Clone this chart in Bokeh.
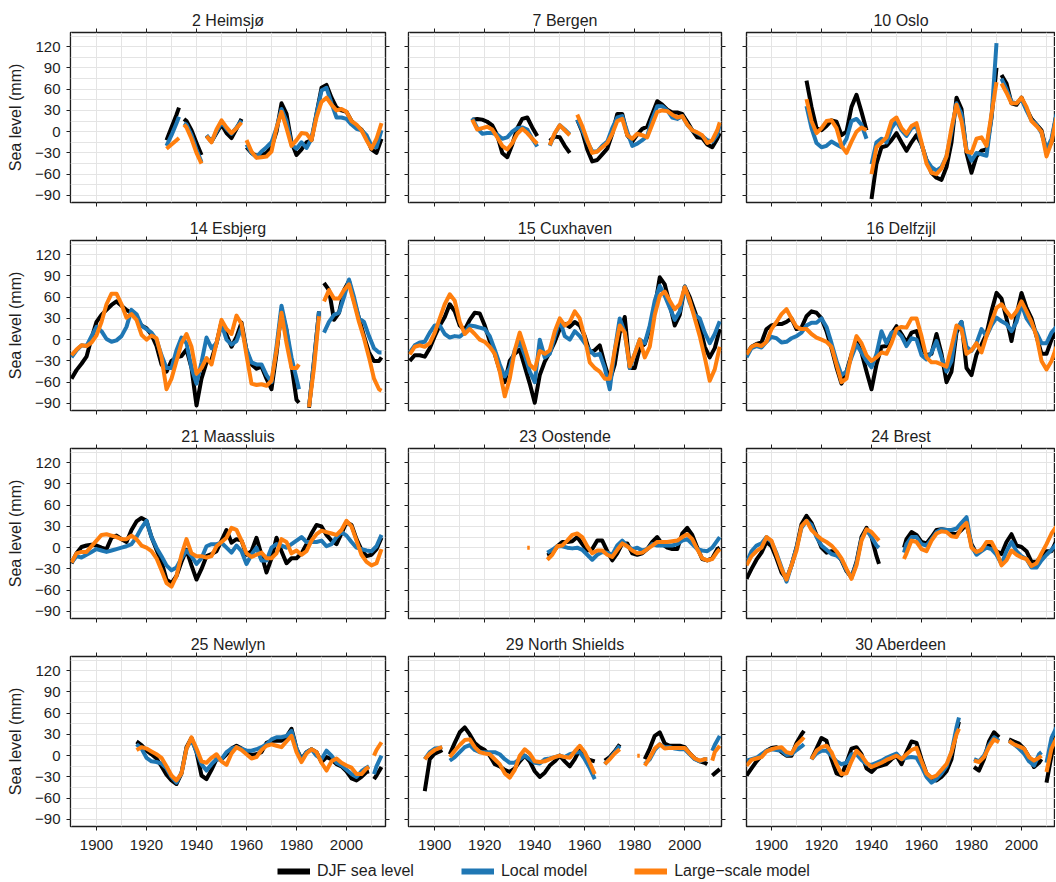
import numpy as np
from bokeh.plotting import figure
from bokeh.layouts import column, row
from bokeh.models import (Range1d, FixedTicker, LinearAxis, Legend, LegendItem,
                          CustomJSTickFormatter)
from bokeh.embed import file_html
from bokeh.resources import INLINE

# ---------------------------------------------------------------- data
# values in mm; None marks gaps in the record
YEARS_FULL = list(range(1890, 2015, 2))

heimsjo_years = [1928, 1930, 1932, 1933, 1934, 1935, 1936, 1938, 1940, 1942, 1943,
                 1944, 1946, 1948, 1950, 1952, 1954, 1956, 1958, 1959] + list(range(1960, 2015, 2))
heimsjo_djf = [-12, 6, 24, 34, None, 18, 15, 2, -16, -33, None, -6, -14, -2, 10, -2, -9, 4, 18, None,
               -22, -30, -34, -33, -30, -22, 0, 40, 25, -15, -33, -25, -15, -12, 25, 62, 66, 48, 34, 30,
               28, 15, 8, 3, -8, -25, -30, -10]
heimsjo_local = [-20, -5, 12, 21, None, 12, 10, -5, -25, -43, None, -5, -14, 0, 13, 4, -3, 6, 16, None,
                 -18, -30, -36, -28, -22, -15, 5, 32, 15, -18, -24, -15, -23, -10, 25, 58, 62, 40, 20, 20,
                 18, 10, 4, 2, -5, -20, -22, 2]
heimsjo_large = [-24, -18, -12, -9, None, 10, 6, -10, -30, -45, None, -6, -15, 3, 16, 6, -2, 5, 13, None,
                 -12, -28, -37, -36, -35, -28, 5, 28, 5, -20, -12, -2, -3, -12, 20, 42, 48, 38, 30, 32,
                 28, 15, 10, 2, -12, -24, -10, 12]

bergen_years = list(range(1915, 1942, 2)) + [1943, 1946, 1948, 1950, 1952, 1954, 1956] + \
    list(range(1957, 2014, 2)) + [2014]
bergen_djf = [17, 18, 17, 14, 9, -5, -30, -36, -18, 5, 18, 20, 6, -6, None, -13, -7, -8, -20, -30, None,
              17, 0, -25, -42, -40, -32, -24, -3, 25, 25, -5, -14, -4, 4, 7, 25, 43, 38, 31, 27, 27, 25,
              14, 2, -8, -9, -18, -22, -10, -2]
bergen_local = [19, 5, -3, -2, -2, -4, -10, -8, 0, 5, 6, 3, -10, -21, None, -20, -3, 9, 3, -4, None,
                17, 2, -14, -28, -28, -20, -14, 5, 20, 22, 0, -20, -17, -12, -6, 18, 36, 36, 30, 20, 18,
                22, 10, 2, -2, -6, -12, -14, -4, 10]
bergen_large = [17, 3, 5, 7, 3, -8, -20, -25, -16, -3, 4, -2, -10, -17, None, -19, -2, 9, 2, -5, None,
                24, 8, -12, -30, -28, -22, -16, -3, 15, 18, -5, -10, -3, -5, -8, 10, 28, 30, 29, 24, 20,
                22, 10, 2, -1, -5, -16, -12, 2, 13]

oslo_years = list(range(1914, 1939, 2)) + [1939] + list(range(1940, 1991, 2)) + [1991] + \
    list(range(1992, 2015, 2))
oslo_djf = [72, 35, 5, 2, 8, 16, 14, -5, 0, 35, 52, 28, 2, None,
            -95, -45, -22, -20, -12, -2, -15, -27, -15, -5, -18, -40, -58, -65, -68, -50, -15, 48, 32,
            -30, -58, -35, -27, -25, 20, 90, None,
            80, 68, 40, 38, 48, 32, 18, 10, 2, -28, -15, 25]
oslo_local = [36, 5, -16, -22, -20, -14, -18, -22, -10, 15, 18, 10, -10, None,
              -46, -15, -10, -15, 5, 15, 2, -6, 5, 8, -18, -40, -50, -55, -50, -35, 0, 40, 25,
              -25, -41, -30, -32, -34, 20, 125, None,
              75, 60, 42, 40, 46, 30, 16, 10, -2, -25, -10, 25]
oslo_large = [46, 15, -2, 5, 15, 16, 5, -20, -30, -14, 0, 6, 2, None,
              -60, -22, -15, -8, 15, 20, 5, -3, 8, 12, -15, -45, -58, -60, -52, -35, 5, 38, 15,
              -28, -30, -10, -8, -20, 25, 70, None,
              68, 55, 40, 40, 48, 35, 15, 8, 0, -35, -15, 20]

esbjerg_years = list(range(1890, 1981, 2)) + [1981, 1983, 1985, 1987, 1989, 1990] + \
    list(range(1991, 2014, 2)) + [2014]
esbjerg_djf = [-55, -43, -34, -24, 2, 25, 35, 42, 49, 54, 48, 42, 38, 31, 20, 16, 7, -9, -35, -45,
               -30, -25, -23, -14, -40, -93, -55, -32, -28, -5, 25, 7, -10, 4, 24, -15, -35, -41, -38, -55,
               -70, -20, 42, 13, -36, -85, -89, None, -96, -30, 40, None,
               80, 70, 28, 38, 70, 83, 55, 30, 5, -18, -30, -30, -25]
esbjerg_local = [-25, -15, -8, -9, 5, 18, 12, 1, -3, -1, 5, 18, 42, 36, 20, 15, 10, 0, -22, -40,
                 -40, -15, 3, -5, -40, -62, -32, 3, -12, -5, 22, 0, -7, -2, 17, -14, -32, -35, -35, -50,
                 -60, -10, 48, 15, -25, -55, -70, None, -95, -30, 40, None,
                 10, 25, 35, 38, 60, 85, 60, 30, 25, 5, -12, -18, -18]
esbjerg_large = [-22, -14, -8, -9, -4, 6, 25, 50, 65, 65, 50, 31, 36, 28, 7, 0, 6, 2, -25, -70,
                 -55, -30, -5, 8, -10, -48, -40, -26, -35, -5, 28, 15, 8, 34, 22, -22, -62, -64, -63, -65,
                 -58, -15, 38, -5, -40, -40, -35, None, -95, -40, 33, None,
                 54, 70, 58, 58, 70, 78, 52, 25, 2, -25, -55, -70, -72]

cuxhaven_years = YEARS_FULL
cuxhaven_djf = [-30, -22, -22, -24, -12, 5, 20, 32, 50, 40, 20, 14, 28, 38, 37, 20, -2, -20, -43, -60,
                -30, -20, -14, -38, -62, -89, -50, -31, -18, -3, 15, 22, 18, 25, 20, 5, -18, -15, -8, -35,
                -58, -35, 10, 32, -40, -40, -12, -6, 15, 45, 88, 78, 50, 20, 35, 75, 60, 40, 20, -10,
                -25, -12, 15]
cuxhaven_local = [-18, -8, -4, -3, 10, 20, 20, 8, 3, 5, 4, 10, 20, 19, 17, 15, 5, -14, -35, -52,
                  -40, -15, -3, -22, -45, -60, 0, -25, -20, 5, 28, 5, 0, 12, 5, -5, -15, -22, -20, -40,
                  -70, -15, 30, 10, -40, -20, 0, -5, 20, 55, 76, 62, 45, 28, 40, 75, 52, 35, 30, 10,
                  -5, 8, 26]
cuxhaven_large = [-21, -10, -8, -10, -5, 10, 30, 50, 64, 55, 25, 8, 15, 8, 0, -3, -10, -20, -45, -80,
                  -55, -15, 10, -12, -35, -42, -16, -20, -15, 12, 30, 20, 25, 40, 30, 3, -32, -40, -45, -55,
                  -55, -15, 20, 10, -38, -20, 0, -25, -10, 35, 62, 68, 55, 43, 50, 74, 55, 30, 5, -25,
                  -58, -42, -10]

delfzijl_years = YEARS_FULL
delfzijl_djf = [-21, -10, -6, -4, 15, 20, 22, 22, 25, 30, 15, 17, 33, 40, 38, 30, 12, -12, -39, -62,
                -45, -21, -2, -18, -45, -70, -35, -10, -9, 8, 19, 8, -4, 10, 12, -11, -22, -20, 8, -20,
                -60, -45, 10, 25, -40, -50, -21, -7, 8, 40, 66, 58, 30, -2, 35, 66, 45, 30, 5, -20,
                -20, 0, 15]
delfzijl_local = [-25, -12, -9, -11, -3, 4, 2, -4, -3, 2, 5, 10, 20, 24, 24, 30, 18, -5, -30, -50,
                  -45, -25, -7, -18, -30, -39, -20, 12, -5, 10, 12, 5, -9, 2, 0, -22, -28, -18, -2, -25,
                  -45, -30, 15, 25, -10, -16, -5, 15, 5, 20, 31, 26, 22, 12, 25, 50, 30, 20, 10, -5,
                  -5, 10, 18]
delfzijl_large = [-21, -10, -7, -9, -3, 15, 25, 36, 43, 30, 18, 15, 15, 8, 3, 0, -3, -10, -35, -60,
                  -55, -20, 5, -5, -22, -30, -25, -18, -20, -5, 15, 18, 17, 30, 30, 5, -25, -32, -32, -35,
                  -38, -10, 20, 15, -20, -15, -5, -18, 5, 25, 45, 50, 40, 31, 40, 54, 40, 25, 5, -30,
                  -42, -30, -10]

maassluis_years = YEARS_FULL
maassluis_djf = [-22, -8, 1, 3, 4, 3, 0, -2, 14, 17, 12, 8, 25, 37, 42, 38, 15, -3, -20, -45,
                 -50, -40, -20, -3, -25, -45, -30, -12, -9, -5, 10, 25, 7, 12, 10, -10, -5, 14, -10, -35,
                 -15, 14, -5, -22, -15, -15, -8, 5, 20, 32, 30, 18, 10, 5, 20, 36, 32, 12, -3, -12,
                 -10, -2, 14]
maassluis_local = [-21, -12, -14, -10, -6, -2, -4, -6, -4, -2, 0, 2, 5, 15, 28, 38, 15, 0, -12, -25,
                   -32, -28, -15, -4, -12, -23, -15, 2, 5, 5, 7, 0, -7, 3, -5, -23, -10, 0, -18, -18,
                   0, 5, 3, 0, 5, 10, 15, 8, 8, 8, 10, 2, 5, 15, 22, 17, 8, 0, -2, -4,
                   -5, 2, 18]
maassluis_large = [-21, -8, -6, -6, 2, 10, 18, 19, 17, 15, 12, 12, 17, 12, 3, 0, -5, -15, -32, -50,
                   -55, -40, -10, 12, -8, -12, -12, -14, -12, 2, 8, 14, 28, 25, 10, -8, -13, -10, -7, -15,
                   -15, -8, 12, 8, -8, -4, -10, -5, 10, 19, 24, 22, 20, 18, 25, 38, 30, 10, -10, -20,
                   -25, -22, -2]

oostende_years = [1937, 1938, 1940] + list(range(1945, 2014, 2)) + [2014]
oostende_djf = [None, None, None, -11, -8, 2, 8, 8, 9, 15, 5, -4, -2, 10, 10, -5, -18, -8, 6, 6, -8, -10,
                -8, -2, 8, 15, 5, 0, -2, -2, 20, 28, 18, 0, -16, -18, -15, -2, 0]
oostende_local = [None, None, None, -7, -3, 2, 2, 0, -1, 0, -3, -10, -17, -10, -6, -7, -10, 3, 10, 2, -2,
                  0, -4, -2, 5, 3, 3, 3, 3, 5, 10, 12, 5, -2, -4, -5, 0, 10, 15]
oostende_large = [0, 0, None, -17, -10, 2, 3, 10, 18, 20, 15, 2, -8, -4, -4, -10, -13, -3, 6, 2, -4, -8,
                  -7, -2, 3, 8, 8, 8, 9, 10, 15, 19, 12, -2, -15, -18, -16, -6, -2]

brest_years = list(range(1890, 1943, 2)) + [1943, 1948, 1953] + list(range(1954, 2015, 2))
brest_djf = [-44, -30, -17, -7, 8, 2, -15, -35, -44, -25, 0, 33, 45, 35, 18, 0, -7, -5, -6, -18,
             -33, -42, -20, 15, 28, 15, -12, -23, None, 0,
             12, 22, 18, 8, 6, 15, 25, 26, 25, 20, 19, 25, 33, 5, -8, -3, 5, 3, -5, -9,
             8, 19, 3, 1, -5, -20, -20, -12, -5, -5, 10]
brest_local = [-21, -5, 3, 6, 15, 8, -8, -28, -48, -25, 0, 28, 38, 32, 15, 3, -3, -9, -11, -17,
               -32, -42, -22, 12, 25, 15, 3, 0, None, -7,
               5, 15, 15, 5, 3, 12, 22, 26, 25, 25, 27, 35, 43, 2, -10, -5, 0, -2, -10, -23,
               -5, 8, -5, -12, -16, -28, -28, -18, -10, -3, 5]
brest_large = [-25, -12, -5, 0, 15, 10, -10, -30, -45, -25, -4, 30, 38, 25, 18, 12, 8, 3, -5, -15,
               -30, -44, -25, 10, 26, 22, 14, 10, None, -16,
               -8, 10, 8, -2, -5, 10, 20, 23, 22, 16, 15, 28, 35, 0, -6, -3, 8, 8, -5, -25,
               -18, -4, -10, -14, -16, -26, -22, -8, 5, 20, 30]

newlyn_years = list(range(1916, 2009, 2)) + [2009, 2010, 2011, 2012, 2014]
newlyn_djf = [20, 15, 7, 2, -4, -15, -27, -35, -40, -25, 12, 25, 5, -28, -33, -20, -5, -5, 2, 10,
              14, 10, 4, 1, 2, 5, 18, 21, 21, 21, 27, 38, 10, -5, 5, 9, 5, -9, -2, -5,
              -12, -15, -22, -32, -35, -30, -23, -22, None, -33, -28, -16]
newlyn_local = [16, 10, -3, -8, -9, -11, -18, -30, -38, -24, 10, 23, 5, -12, -21, -12, -5, -5, 5, 10,
                12, 10, 7, 7, 9, 12, 16, 23, 26, 26, 28, 35, 10, -7, 5, 9, 0, -5, 7, 0,
                -10, -14, -20, -26, -30, -22, -17, -15, None, -26, -15, 0]
newlyn_large = [8, 12, 10, 6, 2, -3, -15, -28, -35, -25, 10, 26, 10, -8, -10, -3, 2, -8, -13, 3,
                12, 8, 2, -4, -2, 8, 14, 16, 14, 12, 20, 28, 5, -9, 3, 9, 5, -10, -21, -8,
                -4, -10, -14, -17, -26, -26, -18, -16, None, 0, 8, 19]

nshields_years = [1896, 1898, 1900, 1902, 1903, 1904] + list(range(1906, 1965, 2)) + \
    [1966, 1968, 1970, 1972, 1974, 1977, 1981, 1982, 1983] + list(range(1984, 2009, 2)) + \
    [2009, 2010, 2011, 2012, 2014]
nshields_djf = [-50, -5, 3, 6, 8, None,
                2, 18, 33, 40, 30, 18, 12, 8, 0, -12, -15, -20, -23, -18, -8, 0, -8, -22, -30, -24,
                -14, -8, 0, -8, -15, -5, 9, -2, -6, -8,
                None, -7, -2, 6, 16, None, None, None, None,
                -5, 10, 28, 33, 17, 14, 14, 14, 12, 3, -4, -8, -10,
                -12, None, -28, -25, -19]
nshields_local = [-5, 5, 10, 11, 12, None,
                  -7, -2, 5, 12, 15, 8, 5, 5, 5, 5, 2, -5, -10, -10, -5, 0, -5, -10, -11, -5,
                  -4, -2, 0, -2, 2, 4, 5, -5, -18, -33,
                  None, -12, -4, 5, 14, None, None, None, None,
                  -12, -5, 8, 16, 12, 12, 10, 9, 9, 2, -5, -8, -5,
                  -5, None, 7, 15, 28]
nshields_large = [-5, 3, 8, 11, 12, None,
                  -2, 7, 15, 22, 23, 12, 5, 3, 2, -5, -12, -25, -31, -20, 0, 9, 3, -8, -9, -8,
                  -5, -2, 0, -2, -3, 6, 14, 5, -10, -26,
                  None, -12, -5, 3, 9, None, 0, 0, None,
                  -14, -3, 10, 16, 10, 11, 11, 11, 11, 3, -4, -7, -5,
                  -5, None, -7, 5, 14]

aberdeen_years = list(range(1890, 1913, 2)) + [1913, 1914] + list(range(1916, 1975, 2)) + \
    [1975, 1978, 1981, 1983, 1985, 1987, 1989, 1991, 1993, 1995, 1997, 1999, 2001, 2003, 2005,
     2007, 2008, 2009, 2010, 2012, 2014]
aberdeen_djf = [-28, -18, -8, 0, 7, 11, 12, 5, 0, 0, 18, 30, 35, None,
                -5, 10, 25, 21, -5, -25, -28, -10, 10, 12, 2, -18, -23, -16, -14, -12, -5, 0, -12, 5,
                20, 18, -5, -25, -33, -35, -30, -22, -5, 35, 48, None,
                -16, -21, -5, 20, 33, 26, None, 23, 20, 17, 10, -2, -16, -10, -5, None, -38, 0, 35]
aberdeen_local = [-7, -5, -3, 2, 7, 9, 8, 7, 1, 2, 8, 13, 16, None,
                  -5, 3, 7, 7, 0, -8, -12, -10, 2, 2, -6, -12, -13, -10, -7, -3, 0, 3, -5, -3,
                  -2, -3, -15, -30, -38, -33, -25, -15, 5, 40, 54, None,
                  -5, -8, 0, 15, 26, 21, None, 21, 16, 10, 3, -8, -14, 2, 5, None, -10, 25, 40]
aberdeen_large = [-14, -6, -4, -2, 6, 9, 11, 12, 5, 3, 15, 22, 26, None,
                  -5, 7, 12, 14, 5, -12, -26, -25, -8, 7, 0, -10, -16, -13, -10, -6, -3, 0, -5, 2,
                  8, 11, -8, -25, -31, -28, -20, -12, 5, 30, 38, None,
                  -7, -9, -2, 12, 23, 19, None, 21, 16, 13, 10, -2, -7, -3, 0, None, -23, 10, 25]

STATIONS = [
    ("2 Heimsjø", heimsjo_years, heimsjo_djf, heimsjo_local, heimsjo_large),
    ("7 Bergen", bergen_years, bergen_djf, bergen_local, bergen_large),
    ("10 Oslo", oslo_years, oslo_djf, oslo_local, oslo_large),
    ("14 Esbjerg", esbjerg_years, esbjerg_djf, esbjerg_local, esbjerg_large),
    ("15 Cuxhaven", cuxhaven_years, cuxhaven_djf, cuxhaven_local, cuxhaven_large),
    ("16 Delfzijl", delfzijl_years, delfzijl_djf, delfzijl_local, delfzijl_large),
    ("21 Maassluis", maassluis_years, maassluis_djf, maassluis_local, maassluis_large),
    ("23 Oostende", oostende_years, oostende_djf, oostende_local, oostende_large),
    ("24 Brest", brest_years, brest_djf, brest_local, brest_large),
    ("25 Newlyn", newlyn_years, newlyn_djf, newlyn_local, newlyn_large),
    ("29 North Shields", nshields_years, nshields_djf, nshields_local, nshields_large),
    ("30 Aberdeen", aberdeen_years, aberdeen_djf, aberdeen_local, aberdeen_large),
]
SERIES_LABELS = ["DJF sea level", "Local model", "Large\u2212scale model"]
X_TICKS = [1900, 1920, 1940, 1960, 1980, 2000]
X_MINOR = [1890, 1910, 1930, 1950, 1970, 1990, 2010]
Y_TICKS = [-90, -60, -30, 0, 30, 60, 90, 120]
Y_MINOR = [-105, -75, -45, -15, 15, 45, 75, 105, 135]

for name, yrs, a, b, c in STATIONS:
    assert len(yrs) == len(a) == len(b) == len(c), (name, len(yrs), len(a), len(b), len(c))

# ---------------------------------------------------------------- style
FONT = "Liberation Sans"
INK = "#1e1e1e"
GRID = "#e4e4e4"
COLORS = ["#000000", "#1f77b4", "#ff7f0e"]
COLS = [
    dict(x0=1889.6, x1=2015.6, fw=315, lb=70, rb=10),
    dict(x0=1889.5, x1=2014.7, fw=313, lb=13, rb=12),
    dict(x0=1890.0, x1=2013.6, fw=309, lb=13, rb=0),
]


def style_axis(ax, ticks, show_labels, standoff=6):
    ax.ticker = FixedTicker(ticks=ticks)
    ax.major_tick_in = 0
    ax.major_tick_out = 4
    ax.major_tick_line_color = INK
    ax.major_tick_line_width = 1
    ax.minor_tick_line_color = None
    ax.axis_line_color = None
    if show_labels:
        ax.formatter = CustomJSTickFormatter(
            code="return tick < 0 ? '\\u2212' + Math.abs(tick) : String(tick);")
        ax.major_label_text_font = FONT
        ax.major_label_text_font_size = "15px"
        ax.major_label_text_color = INK
        ax.major_label_standoff = standoff
    else:
        ax.formatter = CustomJSTickFormatter(code="return '';")
        ax.major_label_text_font_size = "0px"
        ax.major_label_standoff = 0


def make_panel(name, years, djf, local, large, ri, ci):
    c = COLS[ci]
    last_row = ri == 3
    p = figure(frame_width=c["fw"], frame_height=170,
               x_range=Range1d(c["x0"], c["x1"]), y_range=Range1d(-100, 140),
               min_border_left=c["lb"], min_border_right=c["rb"],
               min_border_top=32 if ri == 0 else 24,
               min_border_bottom=31 if last_row else 14,
               output_backend="svg", toolbar_location=None)
    p.background_fill_color = "white"
    p.border_fill_color = "white"
    p.outline_line_color = INK
    p.outline_line_width = 1.4

    p.title.text = name
    p.title.align = "center"
    p.title.text_font = FONT
    p.title.text_font_size = "16px"
    p.title.text_font_style = "normal"
    p.title.text_color = INK
    p.title.standoff = 0

    p.xgrid.ticker = FixedTicker(ticks=X_TICKS, minor_ticks=X_MINOR)
    p.ygrid.ticker = FixedTicker(ticks=Y_TICKS, minor_ticks=Y_MINOR)
    for g in (p.xgrid[0], p.ygrid[0]):
        g.grid_line_color = GRID
        g.grid_line_width = 1
        g.minor_grid_line_color = GRID
        g.minor_grid_line_width = 1

    style_axis(p.xaxis[0], X_TICKS, last_row, standoff=9)
    style_axis(p.yaxis[0], Y_TICKS, ci == 0, standoff=6)
    if ci == 0:
        p.yaxis[0].axis_label = "Sea level (mm)"
        p.yaxis[0].axis_label_text_font = FONT
        p.yaxis[0].axis_label_text_font_size = "16px"
        p.yaxis[0].axis_label_text_font_style = "normal"
        p.yaxis[0].axis_label_text_color = INK
        p.yaxis[0].axis_label_standoff = 8

    top = LinearAxis()
    style_axis(top, X_TICKS, False)
    p.add_layout(top, "above")
    if ci < 2:
        right = LinearAxis()
        style_axis(right, Y_TICKS, False)
        p.add_layout(right, "right")

    x = np.array(years, dtype=float)
    for vals, col in zip((djf, local, large), COLORS):
        p.line(x, np.array(vals, dtype=float), line_color=col, line_width=4,
               line_join="round")
    return p


rows = []
for r in range(4):
    figs = []
    for ci in range(3):
        name, yrs, a, b, c = STATIONS[r * 3 + ci]
        figs.append(make_panel(name, yrs, a, b, c, r, ci))
    rows.append(row(*figs, spacing=0))

# legend strip
lg = figure(width=1056, height=23, min_border=0, output_backend="svg", toolbar_location=None,
            x_range=Range1d(0, 1), y_range=Range1d(0, 1),
            x_axis_location=None, y_axis_location=None)
lg.grid.visible = False
lg.outline_line_color = None
lg.background_fill_color = None
lg.border_fill_color = None
items = []
for lab, col in zip(SERIES_LABELS, COLORS):
    rr = lg.line(x=[-5, -4], y=[-5, -5], line_color=col, line_width=6)
    items.append(LegendItem(label=lab, renderers=[rr]))
legend = Legend(items=items, orientation="horizontal", location=(277, 0),
                padding=0, margin=0, spacing=47, glyph_width=33, glyph_height=16,
                label_standoff=7, label_text_font=FONT, label_text_font_size="16px",
                label_text_color=INK, border_line_color=None, background_fill_alpha=0)
lg.add_layout(legend, "center")

layout = column(*rows, lg, spacing=0)
open("out.html", "w").write(file_html(layout, INLINE))
